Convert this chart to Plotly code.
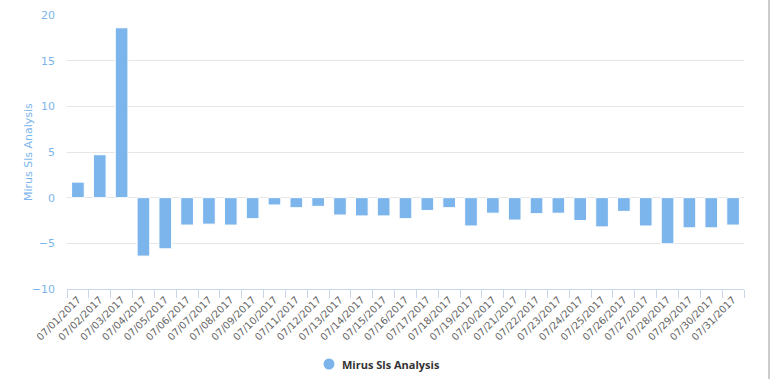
import plotly.graph_objects as go

dates = ["07/%02d/2017" % d for d in range(1, 32)]
values = [1.7, 4.7, 18.6, -6.4, -5.6, -3.0, -2.9, -3.0, -2.3, -0.8,
          -1.1, -0.95, -1.9, -2.0, -2.0, -2.3, -1.4, -1.1, -3.1, -1.7,
          -2.45, -1.75, -1.7, -2.5, -3.2, -1.5, -3.1, -5.05, -3.3, -3.3, -3.0]
series_name = "Mirus Sls Analysis"
y_ticks = [-10, -5, 0, 5, 10, 15, 20]

font_family = "DejaVu Sans, Lucida Grande, Arial, sans-serif"

# plot area in pixels (for placing legend pieces in paper coords)
L, R, T, B = 67, 744, 15, 289
W, H = R - L, B - T


def px(x):
    return (x - L) / W


def py(y):
    return (B - y) / H


fig = go.Figure()
fig.add_trace(go.Bar(
    x=dates, y=values, name=series_name,
    marker=dict(color="#7cb5ec", line=dict(color="#ffffff", width=1)),
    showlegend=False,
))

fig.update_layout(
    width=770, height=379,
    margin=dict(l=L, r=770 - R, t=T, b=379 - B, autoexpand=False),
    paper_bgcolor="#ffffff", plot_bgcolor="#ffffff",
    bargap=0.42,
    font=dict(family=font_family),
    showlegend=False,
    xaxis=dict(
        type="category", tickangle=-45,
        tickfont=dict(size=10, color="#666666"),
        showgrid=False, showline=True, linecolor="#ccd6eb", linewidth=1,
        ticks="outside", tickson="boundaries", ticklen=8, tickcolor="#ccd6eb",
        range=[-0.5, 30.5], automargin=False,
    ),
    yaxis=dict(
        range=[-10, 20], tickvals=y_ticks,
        tickfont=dict(size=11, color="#7cb5ec"),
        gridcolor="#e6e6e6", gridwidth=1,
        zeroline=False, showline=False, automargin=False,
        ticklabelstandoff=11,
    ),
    shapes=[
        dict(type="line", xref="paper", yref="paper",
             x0=px(769), x1=px(769), y0=py(380), y1=py(-1),
             line=dict(color="#cccccc", width=2)),
        dict(type="circle", xref="paper", yref="paper",
             x0=px(323.5), x1=px(334.5), y0=py(369.5), y1=py(358.5),
             fillcolor="#7cb5ec", line=dict(width=0)),
    ],
    annotations=[
        dict(text=series_name, xref="paper", yref="paper",
             x=px(28), y=py(152), xanchor="center", yanchor="middle",
             textangle=-90, showarrow=False,
             font=dict(size=11, color="#7cb5ec", family=font_family)),
        dict(text="<b>" + series_name + "</b>", xref="paper", yref="paper",
             x=px(340), y=py(364), xanchor="left", yanchor="middle",
             showarrow=False,
             font=dict(size=11, color="#333333", family="Open Sans, DejaVu Sans, sans-serif")),
    ],
)

fig.write_html("out.html", config={"displayModeBar": False},
               post_script="document.body.style.margin='0';document.body.style.padding='0';")
